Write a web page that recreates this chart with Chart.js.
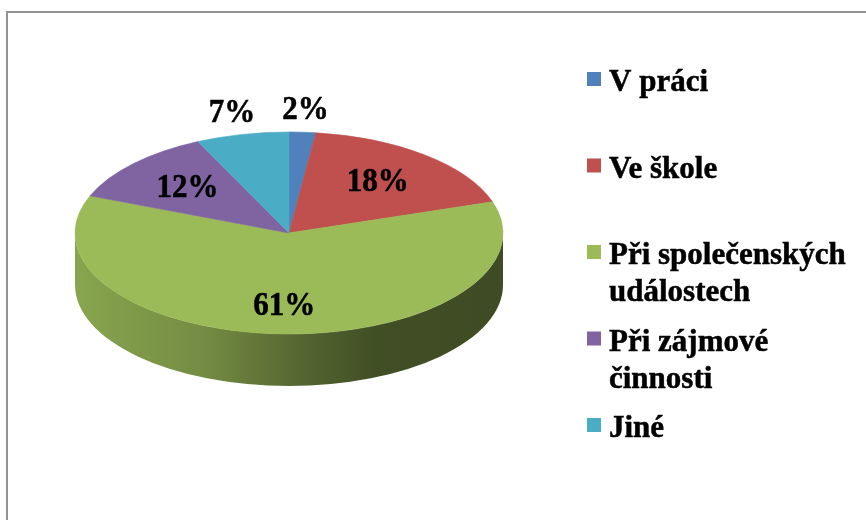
<!DOCTYPE html>
<html lang="cs">
<head>
<meta charset="utf-8">
<script src="https://cdn.jsdelivr.net/npm/chart.js@4"></script>
<style>
  html, body { margin: 0; padding: 0; background: #fff; overflow: hidden; }
  #frame {
    position: absolute; left: 6px; top: 11px; width: 900px; height: 560px;
    border-top: 2px solid #939393; border-left: 2px solid #939393;
  }
  #chart { position: absolute; left: 0; top: 0; }
</style>
</head>
<body>
<div id="frame"></div>
<canvas id="chart" width="866" height="520"></canvas>
<script>
// Données du graphique
const categories = ['V práci', 'Ve škole', ['Při společenských', 'událostech'], ['Při zájmové', 'činnosti'], 'Jiné'];
const values = [2, 18, 61, 12, 7];
const colors = ['#4F81BD', '#C0504D', '#9BBB59', '#8064A2', '#4BACC6'];

// Géométrie de la vue 3D (ellipse du dessus + épaisseur)
const pie3d = { cx: 289, cy: 233, rx: 214, ry: 101, depth: 52 };
const fontFamily = "'Liberation Serif', 'Times New Roman', serif";

// Assombrit une couleur hex
function shade(hex, t) {
  const n = parseInt(hex.slice(1), 16);
  const r = Math.round(((n >> 16) & 255) * (1 - t));
  const g = Math.round(((n >> 8) & 255) * (1 - t));
  const b = Math.round((n & 255) * (1 - t));
  return `rgb(${r},${g},${b})`;
}

// Texte gras légèrement étiré en hauteur
function boldText(ctx, text, x, y, stretch) {
  ctx.save();
  ctx.translate(x, y);
  ctx.scale(1, stretch);
  ctx.lineWidth = 0.5;
  ctx.strokeStyle = ctx.fillStyle;
  ctx.fillText(text, 0, 0);
  ctx.strokeText(text, 0, 0);
  ctx.restore();
}

// Dessine la tranche latérale visible (moitié avant)
function drawSide(chart) {
  const ctx = chart.ctx;
  const meta = chart.getDatasetMeta(0);
  const { cx, cy, rx, ry, depth } = pie3d;

  meta.data.forEach((arc, i) => {
    const a1 = Math.max(arc.startAngle, 0);
    const a2 = Math.min(arc.endAngle, Math.PI);
    if (a1 >= a2) return;

    const color = chart.data.datasets[0].backgroundColor[i];
    const grad = ctx.createLinearGradient(cx - rx, 0, cx + rx, 0);
    grad.addColorStop(0, shade(color, 0.12));
    grad.addColorStop(0.3, shade(color, 0.25));
    grad.addColorStop(0.55, shade(color, 0.47));
    grad.addColorStop(0.7, shade(color, 0.58));
    grad.addColorStop(1, shade(color, 0.6));

    ctx.save();
    ctx.beginPath();
    ctx.ellipse(cx, cy, rx, ry, 0, a1, a2, false);
    ctx.ellipse(cx, cy + depth, rx, ry, 0, a2, a1, true);
    ctx.closePath();
    ctx.fillStyle = grad;
    ctx.fill();
    ctx.restore();
  });
}

// Étiquettes de pourcentage
function drawLabels(chart) {
  const ctx = chart.ctx;
  const meta = chart.getDatasetMeta(0);
  const data = chart.data.datasets[0].data;
  const total = data.reduce((s, v) => s + v, 0);
  const { cx, cy, rx, ry } = pie3d;

  ctx.save();
  ctx.font = `bold 31px ${fontFamily}`;
  ctx.fillStyle = '#000';
  ctx.textAlign = 'center';
  ctx.textBaseline = 'middle';
  meta.data.forEach((arc, i) => {
    const pct = data[i] / total * 100;
    const mid = (arc.startAngle + arc.endAngle) / 2;
    const f = pct < 10 ? 1.22 : (pct > 50 ? 0.72 : 0.65);
    const x = cx + f * rx * Math.cos(mid);
    const y = cy + f * ry * Math.sin(mid);
    boldText(ctx, Math.round(pct) + '%', x, y, 1.1);
  });
  ctx.restore();
}

// Légende à droite
function drawLegend(chart) {
  const ctx = chart.ctx;
  const labels = chart.data.labels;
  const bg = chart.data.datasets[0].backgroundColor;
  const left = 587, top = 79, step = 86.5, box = 14, lineHeight = 37;

  ctx.save();
  ctx.font = `bold 31px ${fontFamily}`;
  ctx.textAlign = 'left';
  ctx.textBaseline = 'alphabetic';
  labels.forEach((label, i) => {
    const yc = top + i * step;
    ctx.fillStyle = bg[i];
    ctx.fillRect(left, yc - box / 2, box, box);
    ctx.fillStyle = '#000';
    const lines = Array.isArray(label) ? label : [label];
    lines.forEach((line, j) => {
      boldText(ctx, line, left + 22, yc + 12 + j * lineHeight, 1.04);
    });
  });
  ctx.restore();
}

// Plugin : vue en perspective du camembert
const pie3dPlugin = {
  id: 'pie3d',
  beforeDatasetsDraw(chart) {
    drawSide(chart);
    const arc = chart.getDatasetMeta(0).data[0];
    const ctx = chart.ctx;
    ctx.save();
    ctx.translate(pie3d.cx, pie3d.cy);
    ctx.scale(pie3d.rx / arc.outerRadius, pie3d.ry / arc.outerRadius);
    ctx.translate(-arc.x, -arc.y);
  },
  afterDatasetsDraw(chart) {
    chart.ctx.restore();
    drawLabels(chart);
  },
  afterDraw(chart) {
    drawLegend(chart);
  }
};

new Chart(document.getElementById('chart'), {
  type: 'pie',
  data: {
    labels: categories,
    datasets: [{
      data: values,
      backgroundColor: colors,
      borderColor: colors,
      borderWidth: 1
    }]
  },
  options: {
    responsive: false,
    animation: false,
    events: [],
    plugins: {
      legend: { display: false },
      tooltip: { enabled: false }
    }
  },
  plugins: [pie3dPlugin]
});
</script>
</body>
</html>
